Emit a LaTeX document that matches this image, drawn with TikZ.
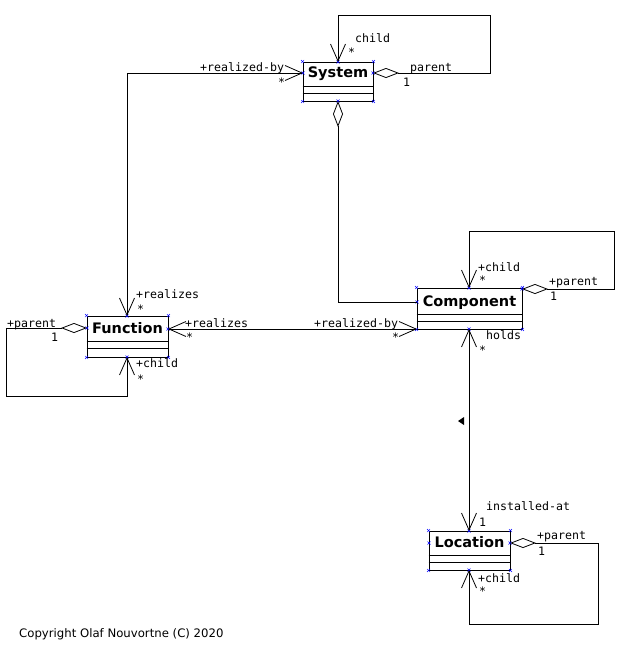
\documentclass[tikz,border=0pt]{standalone}
\usepackage{fontspec}
\setmainfont{DejaVu Sans}
\newfontfamily\monofont{DejaVu Sans Mono}
\usetikzlibrary{arrows.meta,calc}

\tikzset{
  classbox/.style={draw, line width=0.9pt, inner sep=0pt, rectangle},
  classname/.style={font=\fontsize{14.5}{16}\selectfont\bfseries, inner sep=0pt, anchor=base},
  role/.style={font=\monofont\fontsize{11.6}{13}\selectfont, inner sep=0pt, anchor=base west},
  assoc/.style={line width=0.8pt},
  navi/.tip={Straight Barb[length=17pt,width=15pt]},
  aggr/.tip={Diamond[open,length=26pt,width=10pt]},
  xmark/.pic={\draw[blue, line width=0.4pt] (-1.5,-1.5) -- (1.5,1.5) (-1.5,1.5) -- (1.5,-1.5);}
}

\begin{document}
\begin{tikzpicture}[x=1pt,y=-1pt]
\useasboundingbox (0,0) rectangle (625,645);

% ---- classes ----
\node[classbox, minimum width=70pt, minimum height=39pt] (sys) at (338,81.5) {};
\node[classbox, minimum width=81pt, minimum height=41pt] (fun) at (127.5,336.5) {};
\node[classbox, minimum width=105pt, minimum height=41pt] (comp) at (469.5,308.5) {};
\node[classbox, minimum width=81pt, minimum height=39pt] (loc) at (469.5,550.5) {};

\node[classname] (sysname) at ($(sys.north)+(0,16)$) {System};
\node[classname] (funname) at ($(fun.north)+(0,18)$) {Function};
\node[classname] (compname) at ($(comp.north)+(0,19)$) {Component};
\node[classname] (locname) at ($(loc.north)+(0,17)$) {Location};

% compartment separators
\foreach \c/\a/\b in {sys/25/32, fun/26/33, comp/27/34, loc/25/32} {
  \draw[line width=0.9pt] ($(\c.north west)+(0,\a)$) -- ($(\c.north east)+(0,\a)$);
  \draw[line width=0.9pt] ($(\c.north west)+(0,\b)$) -- ($(\c.north east)+(0,\b)$);
}

% ---- ports ----
\coordinate (sysE) at (373,73);
\coordinate (sysW) at (303,73);
\coordinate (sysN) at (338,62);
\coordinate (sysS) at (338,101);
\coordinate (funN) at (127,316);
\coordinate (funS) at (127,357);
\coordinate (funW) at (87,328);
\coordinate (funE) at (168,329);
\coordinate (compN) at (469,288);
\coordinate (compS) at (469,329);
\coordinate (compE) at (522,289);
\coordinate (compW) at (417,302);
\coordinate (compSW) at (417,329);
\coordinate (locN) at (469,531);
\coordinate (locS) at (469,570);
\coordinate (locE) at (510,543);
\coordinate (locW) at (429,543);

% port markers
\foreach \c in {sys, fun, comp, loc} {
  \foreach \k in {north west, north east, south west, south east}
    \pic at (\c.\k) {xmark};
}
\foreach \p in {sysE, sysW, sysN, sysS, funN, funS, funW, funE, compN, compS, compE, compW, locN, locS, locE, locW}
  \pic at (\p) {xmark};

% ---- associations ----
% System: parent/child
\draw[assoc, aggr-navi] (sysE) -- (490,73) -- (490,15) -- (338,15) -- (sysN);
% System -- Function
\draw[assoc, navi-navi] (sysW) -- (127,73) -- (funN);
% System aggregates Component
\draw[assoc, aggr-] (sysS) -- (338,302) -- (compW);
% Function: parent/child
\draw[assoc, aggr-navi] (funW) -- (6,328) -- (6,396) -- (127,396) -- (funS);
% Function -- Component
\draw[assoc, navi-navi] (funE) -- (compSW);
% Component: parent/child
\draw[assoc, aggr-navi] (compE) -- (614,289) -- (614,231) -- (469,231) -- (compN);
% Component -- Location
\draw[assoc, navi-navi] (compS) -- (locN);
% Location: parent/child
\draw[assoc, aggr-navi] (locE) -- (598,543) -- (598,624) -- (469,624) -- (locS);

% reading direction of holds / installed-at
\fill (458,421) -- (464,417) -- (464,425) -- cycle;

% ---- role names and multiplicities ----
\node[role] (r1) at (355,42) {child};
\node[role] (r2) at (348,56) {*};
\node[role] (r3) at (410,71) {parent};
\node[role] (r4) at (403,86) {1};

\node[role] (r5) at (200,71) {+realized-by};
\node[role] (r6) at (278,86) {*};
\node[role] (r7) at (136,298) {+realizes};
\node[role] (r8) at (137,313) {*};

\node[role] (r9) at (185,327) {+realizes};
\node[role] (r10) at (186,341) {*};
\node[role] (r11) at (314,327) {+realized-by};
\node[role] (r12) at (392,341) {*};

\node[role] (r13) at (7,327) {+parent};
\node[role] (r14) at (51,341) {1};
\node[role] (r15) at (136,367) {+child};
\node[role] (r16) at (137,383) {*};

\node[role] (r17) at (478,271) {+child};
\node[role] (r18) at (479,284) {*};
\node[role] (r19) at (549,285) {+parent};
\node[role] (r20) at (550,300) {1};
\node[role] (r21) at (486,339) {holds};
\node[role] (r22) at (479,354) {*};

\node[role] (r23) at (486,510) {installed-at};
\node[role] (r24) at (479,526) {1};
\node[role] (r25) at (537,539) {+parent};
\node[role] (r26) at (538,555) {1};
\node[role] (r27) at (478,582) {+child};
\node[role] (r28) at (479,595) {*};

% ---- footer ----
\node[font=\fontsize{11.7}{13}\selectfont, inner sep=0pt, anchor=base west] (copy) at (19,637) {Copyright Olaf Nouvortne (C) 2020};
\end{tikzpicture}
\end{document}
